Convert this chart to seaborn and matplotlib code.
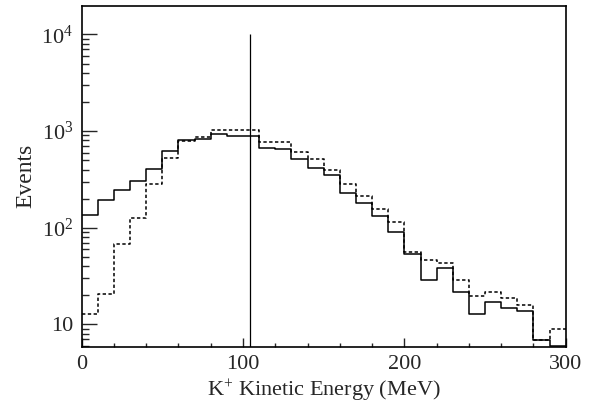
import numpy as np
import pandas as pd
import matplotlib
matplotlib.use("Agg")
import matplotlib.pyplot as plt
import matplotlib.ticker as mticker
import seaborn as sns

# ---- data ----
bin_edges = list(range(0, 310, 10))
solid_counts = [135, 193, 243, 304, 407, 616, 807, 820, 924, 888,
                888, 667, 646, 513, 414, 347, 230, 179, 131, 89.5,
                53.5, 28.8, 37.9, 21.8, 12.8, 16.9, 14.9, 13.8, 6.9, 6.0]
dashed_counts = [12.9, 20.7, 67.3, 127, 285, 526, 782, 873, 1016, 1032,
                 1032, 769, 769, 611, 518, 395, 281, 214, 155, 114,
                 56.5, 45.9, 43.0, 28.8, 19.8, 21.8, 18.9, 16.0, 6.9, 8.95]
cut_energy = 104.3
cut_top = 1e4
y_limits = (5.86, 19800)
x_limits = (0, 300)
x_major_ticks = [0, 100, 200, 300]
y_major_ticks = [10, 100, 1000, 10000]

sns.set_theme(style="ticks")
plt.rcParams["font.family"] = ["Liberation Serif", "DejaVu Serif"]
plt.rcParams["mathtext.fontset"] = "custom"
plt.rcParams["mathtext.rm"] = "Liberation Serif"
plt.rcParams["mathtext.it"] = "Liberation Serif:italic"
plt.rcParams["mathtext.bf"] = "Liberation Serif:bold"

centers = [(a + b) / 2 for a, b in zip(bin_edges[:-1], bin_edges[1:])]
df = pd.DataFrame({
    "energy": centers + centers,
    "count": solid_counts + dashed_counts,
    "kind": ["solid"] * len(centers) + ["dashed"] * len(centers),
})

fig = plt.figure(figsize=(5.94, 4.16), dpi=100)
ax = fig.add_axes([0.1375, 0.1666, 0.9524 - 0.1375, 0.986 - 0.1666])

sns.histplot(data=df[df.kind == "dashed"], x="energy", weights="count",
             bins=bin_edges, element="step", fill=False, color="black",
             linewidth=1.1, linestyle=(0, (2.2, 1.6)), ax=ax)
sns.histplot(data=df[df.kind == "solid"], x="energy", weights="count",
             bins=bin_edges, element="step", fill=False, color="black",
             linewidth=1.1, ax=ax)

ax.set_yscale("log")
ax.set_xlim(*x_limits)
ax.set_ylim(*y_limits)
ax.vlines(cut_energy, y_limits[0], cut_top, color="black", linewidth=0.9)

ax.set_xticks(x_major_ticks)
ax.xaxis.set_minor_locator(mticker.MultipleLocator(20))
ax.set_yticks(y_major_ticks)
ax.yaxis.set_minor_locator(mticker.LogLocator(base=10, subs=np.arange(2, 10)))
ax.yaxis.set_minor_formatter(mticker.NullFormatter())


def yfmt(v, pos):
    e = int(round(np.log10(v)))
    if e == 1:
        return "10"
    return r"$\mathregular{10^{%d}}$" % e


ax.yaxis.set_major_formatter(mticker.FuncFormatter(yfmt))

ax.tick_params(axis="x", which="major", direction="in", length=6.5, width=1.0,
               labelsize=16, pad=6, top=False)
ax.tick_params(axis="x", which="minor", direction="in", length=3, width=1.0, top=False)
ax.tick_params(axis="y", which="major", direction="in", length=10.5, width=1.0,
               labelsize=16, pad=6, right=False)
ax.tick_params(axis="y", which="minor", direction="in", length=4.8, width=1.0, right=False)

for s in ax.spines.values():
    s.set_visible(True)
    s.set_linewidth(1.2)
    s.set_color("black")

ax.set_xlabel(r"K$^{+}$ Kinetic Energy (MeV)", fontsize=16, labelpad=3)
ax.set_ylabel("Events", fontsize=17, labelpad=4)

fig.savefig("out.png", dpi=100, facecolor="white")
